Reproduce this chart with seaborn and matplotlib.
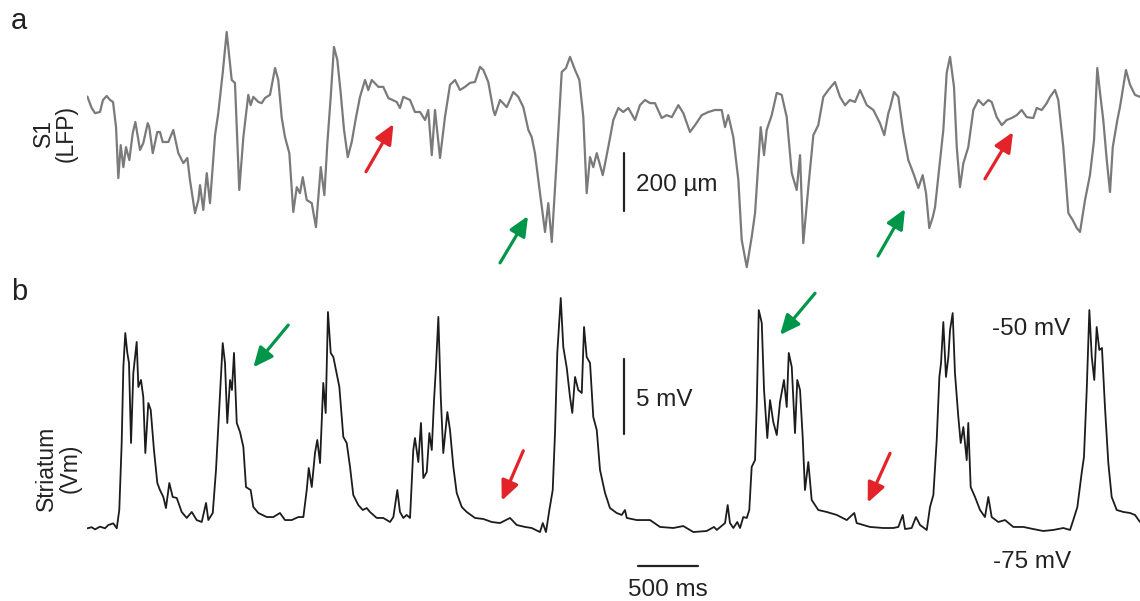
import numpy as np
import pandas as pd
import matplotlib
matplotlib.use("Agg")
import matplotlib.pyplot as plt
import seaborn as sns

# ---------------- data ----------------
# S1 LFP trace (time in ms, amplitude in the scale-bar units)
lfp_t = [3, 39, 67, 108, 133, 164, 192, 217, 242, 261, 281, 303, 325, 353, 381, 403, 442, 469, 506, 519,
         548, 586, 608, 631, 678, 719, 761, 803, 836, 858, 900, 928, 942, 969, 998, 1025, 1067, 1094, 1131, 1164,
         1206, 1233, 1269, 1303, 1344, 1364, 1386, 1428, 1456, 1483, 1525, 1567, 1594, 1623, 1650, 1686, 1719, 1748, 1775, 1798,
         1831, 1873, 1908, 1948, 1978, 2003, 2031, 2058, 2086, 2114, 2142, 2173, 2206, 2242, 2275, 2317, 2344, 2373, 2428, 2469,
         2511, 2581, 2608, 2636, 2692, 2733, 2775, 2817, 2844, 2873, 2900, 2942, 2983, 3025, 3067, 3108, 3150, 3192, 3233, 3275,
         3303, 3344, 3386, 3400, 3442, 3498, 3553, 3594, 3636, 3678, 3706, 3733, 3775, 3817, 3844, 3873, 3914, 3956, 3992, 4025,
         4067, 4103, 4136, 4164, 4192, 4219, 4248, 4298, 4344, 4386, 4428, 4469, 4511, 4567, 4608, 4650, 4692, 4733, 4789, 4831,
         4873, 4928, 4969, 5025, 5067, 5123, 5178, 5233, 5289, 5317, 5344, 5386, 5428, 5456, 5498, 5539, 5567, 5594, 5614, 5642,
         5664, 5706, 5748, 5789, 5831, 5873, 5914, 5942, 5969, 6011, 6053, 6094, 6136, 6178, 6233, 6275, 6317, 6358, 6400, 6442,
         6498, 6553, 6608, 6644, 6678, 6692, 6725, 6761, 6803, 6844, 6886, 6928, 6964, 6992, 7019, 7048, 7067, 7094, 7136, 7164,
         7192, 7225, 7248, 7275, 7303, 7344, 7386, 7428, 7469, 7511, 7539, 7581, 7623, 7664, 7706, 7748, 7789, 7831, 7886, 7914,
         7956, 7998, 8025, 8067, 8094, 8136, 8178, 8214, 8248, 8275, 8317, 8358, 8392, 8419, 8442, 8469, 8498, 8525, 8548, 8586,
         8608, 8658, 8692, 8733, 8775]
lfp_v = [12, -28, -46, -42, 0, 14, 0, -7, -95, -273, -158, -235, -165, -210, -116, -77, -175, -151, -81, -95,
         -186, -112, -112, -147, -147, -105, -186, -221, -203, -280, -396, -350, -298, -385, -256, -361, -123, -46, 95, 238,
         70, 60, -315, -130, 18, -18, 11, -7, -11, 7, 18, 112, 70, -63, -130, -186, -392, -305, -326, -270,
         -350, -361, -445, -235, -333, -151, 11, 186, 140, 25, -105, -200, -147, -60, 11, 70, 35, 70, 46, 46,
         7, -7, -28, 11, 0, -42, -42, -70, -35, -193, -35, -203, -60, 53, 70, 35, 46, 60, 63, 116,
         105, 63, -35, -53, 0, -25, 28, 11, -25, -105, -130, -186, -326, -462, -361, -497, -210, 98, 112, 151,
         105, 70, -60, -326, -200, -235, -186, -263, -165, -70, -28, -42, -28, -70, -18, 0, -11, -11, -63, -53,
         -60, -18, -46, -112, -88, -53, -42, -35, -35, -95, -53, -130, -280, -490, -585, -480, -396, -221, -95, -193,
         -105, -53, 25, 18, -60, -256, -315, -193, -501, -305, -123, -88, 11, 35, 63, 11, -18, 0, -7, 35,
         -18, -35, -81, -123, -46, -28, 28, 11, -116, -210, -256, -308, -263, -326, -448, -410, -375, -270, -105, 95,
         151, 46, -165, -305, -221, -165, -35, 0, -18, 0, -7, -60, -88, -70, -63, -53, -35, -60, -63, -28,
         -35, -11, 11, 35, 0, -165, -396, -420, -448, -462, -350, -263, -140, 112, 25, -70, -210, -322, -165, -70,
         -25, 105, 53, 18, 11]

# Striatum Vm trace (time in ms, mV)
vm_t = [3, 39, 67, 108, 150, 178, 219, 248, 269, 289, 303, 319, 336, 350, 367, 386, 414, 428, 450, 469,
        486, 511, 531, 558, 586, 608, 636, 658, 686, 714, 748, 789, 831, 873, 914, 956, 992, 1011, 1048, 1075,
        1103, 1131, 1150, 1169, 1192, 1208, 1225, 1248, 1275, 1303, 1325, 1364, 1386, 1428, 1498, 1553, 1608, 1650, 1706, 1761,
        1803, 1831, 1848, 1873, 1900, 1919, 1942, 1969, 1989, 2008, 2031, 2053, 2075, 2103, 2136, 2164, 2192, 2219, 2261, 2298,
        2331, 2358, 2414, 2469, 2525, 2553, 2586, 2608, 2636, 2664, 2692, 2719, 2733, 2761, 2783, 2803, 2831, 2853, 2873, 2892,
        2908, 2928, 2948, 2969, 3003, 3025, 3053, 3081, 3123, 3164, 3233, 3303, 3373, 3442, 3525, 3581, 3650, 3706, 3775, 3798,
        3825, 3853, 3881, 3900, 3919, 3948, 3969, 3998, 4025, 4044, 4067, 4094, 4123, 4142, 4164, 4192, 4219, 4248, 4275, 4317,
        4358, 4414, 4456, 4483, 4498, 4581, 4664, 4692, 4775, 4886, 4969, 5053, 5164, 5225, 5248, 5317, 5339, 5358, 5386, 5419,
        5442, 5469, 5498, 5519, 5539, 5567, 5581, 5598, 5623, 5642, 5669, 5692, 5719, 5748, 5775, 5808, 5831, 5848, 5873, 5900,
        5919, 5942, 5964, 5983, 6011, 6039, 6094, 6164, 6248, 6331, 6394, 6414, 6525, 6636, 6719, 6761, 6798, 6817, 6872, 6908,
        6942, 6998, 7025, 7053, 7081, 7103, 7117, 7136, 7158, 7178, 7192, 7214, 7233, 7261, 7281, 7303, 7331, 7344, 7364, 7400,
        7442, 7483, 7511, 7539, 7594, 7650, 7719, 7803, 7886, 7969, 8053, 8136, 8192, 8219, 8253, 8289, 8308, 8331, 8353, 8373,
        8394, 8414, 8436, 8458, 8483, 8511, 8539, 8581, 8636, 8692, 8733, 8775]
vm_v = [-75.02, -74.95, -75.09, -74.91, -75.02, -74.8, -74.69, -75.02, -73.8, -69.33, -64.27, -62.0, -63.33, -64.0, -69.33, -64.67, -62.6, -65.6, -65.13, -66.27,
        -70.0, -66.67, -67.13, -69.8, -72.0, -72.47, -72.93, -73.67, -72.0, -72.93, -73.0, -73.93, -74.33, -73.93, -74.47, -74.6, -73.33, -74.47, -74.0, -71.13,
        -66.93, -62.67, -64.0, -68.0, -65.13, -65.8, -63.33, -68.0, -68.6, -69.6, -72.27, -72.47, -73.6, -74.0, -74.27, -74.27, -74.0, -74.47, -74.47, -74.27,
        -74.27, -72.47, -71.0, -72.27, -70.0, -69.13, -70.67, -65.33, -67.33, -60.6, -63.33, -63.6, -64.47, -65.6, -68.93, -69.33, -70.93, -72.8, -73.47, -73.8,
        -73.67, -73.93, -74.33, -74.33, -74.6, -74.27, -72.47, -73.93, -74.33, -74.13, -74.33, -69.8, -69.0, -70.6, -68.0, -71.67, -71.27, -68.67, -69.8, -66.47,
        -64.27, -60.93, -66.27, -70.0, -67.27, -68.47, -70.93, -72.67, -73.6, -73.93, -74.33, -74.4, -74.6, -74.67, -74.33, -74.8, -74.93, -75.0, -75.27, -74.67,
        -75.27, -73.8, -72.47, -68.67, -63.33, -59.67, -62.93, -64.33, -66.27, -67.33, -64.93, -65.8, -66.0, -61.6, -63.6, -64.0, -67.6, -68.47, -71.13, -72.67,
        -73.67, -74.0, -74.13, -73.8, -74.33, -74.47, -74.47, -74.47, -74.93, -75.0, -74.87, -75.27, -75.2, -74.93, -75.13, -74.67, -73.47, -74.67, -75.0, -74.6,
        -75.0, -74.27, -74.33, -73.8, -70.93, -70.47, -66.93, -60.47, -61.33, -65.8, -69.0, -66.47, -67.93, -68.8, -66.6, -65.13, -66.93, -63.33, -64.27, -68.67,
        -65.13, -65.8, -68.93, -72.47, -70.6, -73.13, -73.8, -73.93, -74.13, -74.47, -74.0, -74.67, -74.93, -75.0, -75.0, -74.93, -74.13, -75.07, -75.0, -74.27,
        -74.8, -75.13, -73.6, -72.8, -69.13, -64.93, -64.0, -61.27, -64.93, -63.6, -61.8, -60.67, -64.67, -67.6, -69.33, -68.27, -70.47, -68.0, -72.27, -72.93,
        -73.8, -74.27, -72.93, -74.27, -74.6, -74.47, -74.93, -74.93, -75.07, -75.2, -75.13, -75.0, -75.13, -74.47, -73.6, -71.33, -70.27, -65.8, -60.47, -63.6,
        -65.13, -61.6, -63.13, -63.0, -66.93, -70.67, -72.93, -73.8, -73.93, -74.0, -74.13, -74.6]

# arrows: (tail_t, tail_v, tip_t, tip_v, colour)
lfp_arrows = [(2325, -251, 2554, -84, "red"), (3442, -570, 3675, -406, "green"),
              (6592, -546, 6817, -381, "green"), (7483, -276, 7717, -112, "red")]
vm_arrows = [(1677, -61.47, 1386, -64.29, "green"), (3636, -69.85, 3456, -73.18, "red"),
             (6067, -59.35, 5775, -62.13, "green"), (6692, -70.02, 6506, -73.31, "red")]

lfp_bar = 200   # µm
vm_bar = 5      # mV
time_bar = 500  # ms

# ---------------- plotting ----------------
sns.set_theme(style="white")
plt.rcParams["font.family"] = ["Liberation Sans", "DejaVu Sans"]

arrow_col = {"red": "#e3232a", "green": "#00964a"}
txt_col = "#222222"

W, H = 1140, 601
fig = plt.figure(figsize=(W / 100, H / 100), dpi=100)
fig.patch.set_facecolor("white")

ax_top = fig.add_axes([87 / W, (H - 280) / H, (W - 87) / W, 260 / H])
ax_bot = fig.add_axes([87 / W, (H - 540) / H, (W - 87) / W, 250 / H])

lfp_df = pd.DataFrame({"t": lfp_t, "v": lfp_v})
vm_df = pd.DataFrame({"t": vm_t, "v": vm_v})

sns.lineplot(data=lfp_df, x="t", y="v", ax=ax_top, color="#7a7a7a", lw=1.6,
             estimator=None, sort=False)
sns.lineplot(data=vm_df, x="t", y="v", ax=ax_bot, color="#1c1c1c", lw=1.3,
             estimator=None, sort=False)

ax_top.set_xlim(0, 8775)
ax_top.set_ylim(-630, 280)
ax_bot.set_xlim(0, 8775)
ax_bot.set_ylim(-75.8, -59.133)

for ax in (ax_top, ax_bot):
    ax.set_axis_off()

# scale bars
ax_top.plot([4477, 4477], [-187, -187 - lfp_bar], color="#222222", lw=1.6, clip_on=False)
ax_top.text(4575, -297, "200 µm", fontsize=17.5, color=txt_col, va="center", ha="left")
ax_bot.plot([4477, 4477], [-63.75, -63.75 - vm_bar], color="#222222", lw=1.6, clip_on=False)
ax_bot.text(4575, -66.47, "5 mV", fontsize=17.5, color=txt_col, va="center", ha="left")
ax_bot.plot([4594, 4594 + time_bar], [-77.53, -77.53], color="#222222", lw=1.6, clip_on=False)
ax_bot.text(4594 + time_bar / 2, -79.13, "500 ms", fontsize=17.5, color=txt_col,
            va="center", ha="center")
ax_bot.text(7542, -61.73, "-50 mV", fontsize=17.5, color=txt_col, va="center", ha="left")
ax_bot.text(7550, -77.27, "-75 mV", fontsize=17.5, color=txt_col, va="center", ha="left")

# arrows
for ax, arrows in ((ax_top, lfp_arrows), (ax_bot, vm_arrows)):
    for t0, v0, t1, v1, c in arrows:
        ax.annotate("", xy=(t1, v1), xytext=(t0, v0), annotation_clip=False,
                    arrowprops=dict(arrowstyle="-|>,head_length=0.85,head_width=0.38",
                                    mutation_scale=14, lw=2.3, color=arrow_col[c],
                                    shrinkA=0, shrinkB=0))

# panel letters and trace labels
fig.text(19 / W, 1 - 21 / H, "a", fontsize=21, color=txt_col, ha="center", va="center")
fig.text(19 / W, 1 - 292 / H, "b", fontsize=21, color=txt_col, ha="center", va="center")
fig.text(43 / W, 1 - 133 / H, "S1", fontsize=16.5, color=txt_col, rotation=90, ha="center", va="center")
fig.text(66 / W, 1 - 133 / H, "(LFP)", fontsize=16.5, color=txt_col, rotation=90, ha="center", va="center")
fig.text(46 / W, 1 - 468 / H, "Striatum", fontsize=16.5, color=txt_col, rotation=90, ha="center", va="center")
fig.text(70 / W, 1 - 468 / H, "(Vm)", fontsize=16.5, color=txt_col, rotation=90, ha="center", va="center")

fig.savefig("out.png", dpi=100, facecolor="white")
